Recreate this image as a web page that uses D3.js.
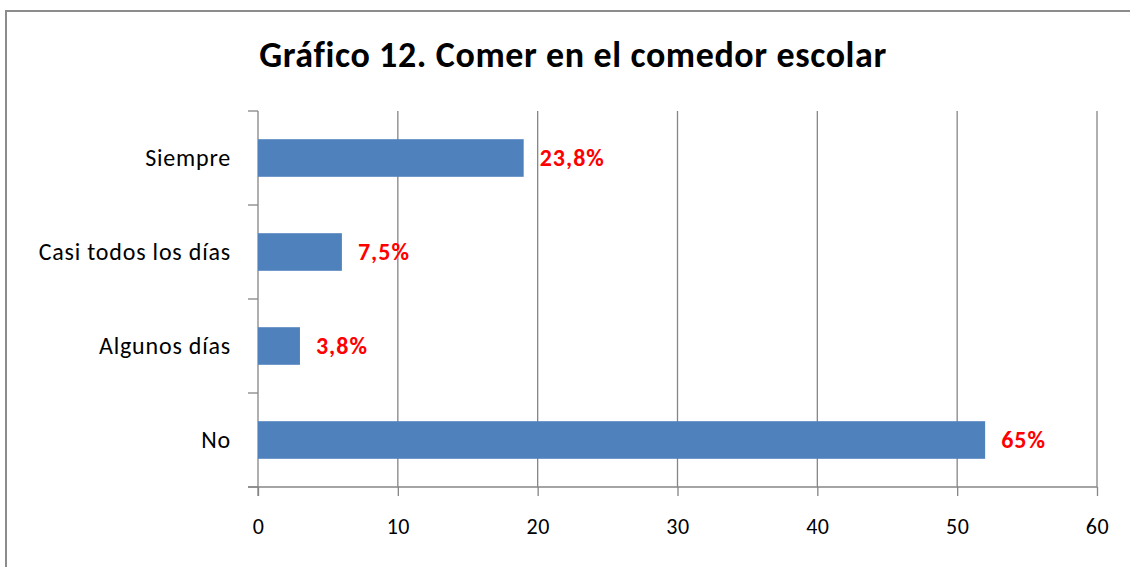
<!DOCTYPE html>
<html lang="es">
<head>
    <meta charset="UTF-8">
    <title>Gráfico 12. Comer en el comedor escolar</title>
    <script src="https://d3js.org/d3.v7.min.js"></script>
    <style>
        body { margin: 0; background: #fff; }
        text { font-family: Carlito, Lato, "Open Sans", sans-serif; }
    </style>
</head>
<body>
    <script>
        // datos
        let categories = ["Siempre", "Casi todos los días", "Algunos días", "No"];
        let values = [19, 6, 3, 52];
        let valueLabels = ["23,8%", "7,5%", "3,8%", "65%"];
        let xTicks = [0, 10, 20, 30, 40, 50, 60];

        let width = 1130,
            height = 567;
        let plot = { left: 258, right: 1097, top: 111, bottom: 487 };
        let axisColor = "#868686";

        let svg = d3.select("body")
                    .append("svg")
                    .attr("width", width)
                    .attr("height", height);

        /* marco */
        svg.append("rect")
           .attr("x", 6)
           .attr("y", 11)
           .attr("width", width + 20)
           .attr("height", height + 20)
           .attr("fill", "#fff")
           .attr("stroke", "#8c8c8c")
           .attr("stroke-width", 2);

        /* título */
        svg.append("text")
           .attr("x", 573)
           .attr("y", 67)
           .attr("text-anchor", "middle")
           .attr("font-size", 36)
           .attr("font-weight", "bold")
           .attr("letter-spacing", 0.6)
           .attr("fill", "#000")
           .text("Gráfico 12. Comer en el comedor escolar");

        let xScale = d3.scaleLinear()
                       .domain([0, 60])
                       .range([plot.left, plot.right]);

        let yScale = d3.scaleBand()
                       .domain(categories)
                       .range([plot.top, plot.bottom])
                       .paddingInner(0.6)
                       .paddingOuter(0.3);

        /* líneas de cuadrícula verticales */
        svg.append("g")
           .selectAll("line")
           .data(xTicks.slice(1))
           .enter()
           .append("line")
           .attr("x1", d => xScale(d))
           .attr("x2", d => xScale(d))
           .attr("y1", plot.top)
           .attr("y2", plot.bottom)
           .attr("stroke", axisColor)
           .attr("stroke-width", 1.3);

        /* eje X */
        let xAxis = d3.axisBottom(xScale)
                      .tickValues(xTicks)
                      .tickSize(9)
                      .tickPadding(22)
                      .tickFormat(d3.format("d"));
        let gx = svg.append("g")
                    .attr("transform", `translate(0, ${plot.bottom})`)
                    .call(xAxis);
        gx.select(".domain").remove();
        gx.selectAll("line").attr("stroke", axisColor).attr("stroke-width", 1.3);
        gx.selectAll("text")
          .attr("font-size", 22)
          .attr("letter-spacing", 0.5)
          .attr("fill", "#000")
          .style("font-family", "Carlito, Lato, 'Open Sans', sans-serif");
        svg.append("line")
           .attr("x1", plot.left - 10)
           .attr("x2", plot.right)
           .attr("y1", plot.bottom)
           .attr("y2", plot.bottom)
           .attr("stroke", axisColor)
           .attr("stroke-width", 1.3);

        /* eje Y: línea y marcas entre categorías */
        svg.append("line")
           .attr("x1", plot.left)
           .attr("x2", plot.left)
           .attr("y1", plot.top)
           .attr("y2", plot.bottom + 9)
           .attr("stroke", axisColor)
           .attr("stroke-width", 1.3);
        let step = yScale.step();
        svg.append("g")
           .selectAll("line")
           .data(d3.range(categories.length + 1))
           .enter()
           .append("line")
           .attr("x1", plot.left - 10)
           .attr("x2", plot.left)
           .attr("y1", i => plot.top + i * step)
           .attr("y2", i => plot.top + i * step)
           .attr("stroke", axisColor)
           .attr("stroke-width", 1.3);

        svg.append("g")
           .selectAll("text")
           .data(categories)
           .enter()
           .append("text")
           .attr("x", plot.left - 27)
           .attr("y", d => yScale(d) + yScale.bandwidth() / 2)
           .attr("dy", "0.35em")
           .attr("text-anchor", "end")
           .attr("font-size", 24)
           .attr("letter-spacing", 0.8)
           .attr("fill", "#000")
           .text(d => d);

        /* barras */
        svg.append("g")
           .selectAll("rect")
           .data(values)
           .enter()
           .append("rect")
           .attr("x", xScale(0))
           .attr("y", (d, i) => yScale(categories[i]))
           .attr("width", d => xScale(d) - xScale(0))
           .attr("height", yScale.bandwidth())
           .attr("fill", "#4f81bd");

        /* etiquetas de valor */
        svg.append("g")
           .selectAll("text")
           .data(values)
           .enter()
           .append("text")
           .attr("x", d => xScale(d) + 16)
           .attr("y", (d, i) => yScale(categories[i]) + yScale.bandwidth() / 2)
           .attr("dy", "0.35em")
           .attr("font-size", 24)
           .attr("font-weight", "bold")
           .attr("letter-spacing", 1)
           .attr("fill", "#ff0000")
           .text((d, i) => valueLabels[i]);
    </script>
</body>
</html>
